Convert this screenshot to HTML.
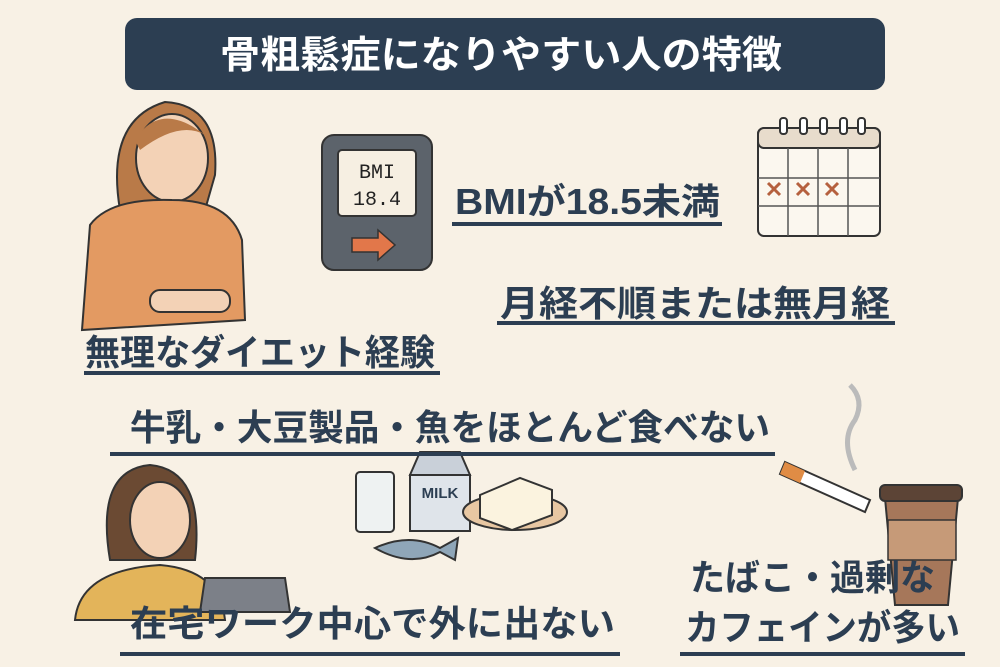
<!DOCTYPE html>
<html><head><meta charset="utf-8"><style>
html,body{margin:0;padding:0}
body{width:1000px;height:667px;background:#f8f1e5;position:relative;overflow:hidden;font-family:"Liberation Sans","Noto Sans CJK JP",sans-serif}
.title{position:absolute;left:125px;top:18px;width:760px;height:72px;background:#2c3e52;border-radius:12px}
.ul{position:absolute;height:4px;background:#2c3e52}
svg{position:absolute;left:0;top:0}
.t{font-family:"Liberation Sans","Noto Sans CJK JP",sans-serif;font-weight:bold;fill:#2c3e52;font-size:36px}
</style></head><body>
<div class="title"></div>
<svg width="1000" height="667" viewBox="0 0 1000 667">
 <path d="M120 210 Q105 120 165 102 Q220 105 215 175 L205 210 Z" fill="#b97a48" stroke="#333" stroke-width="2"/>
 <ellipse cx="172" cy="158" rx="36" ry="44" fill="#f3d2b6" stroke="#333" stroke-width="2"/>
 <path d="M135 140 Q160 100 205 135 Q180 120 140 150Z" fill="#b97a48"/>
 <path d="M82 330 L90 225 Q110 198 172 200 Q230 200 242 240 L245 320 Z" fill="#e39a62" stroke="#333" stroke-width="2"/>
 <rect x="150" y="290" width="80" height="22" rx="10" fill="#f3d2b6" stroke="#333" stroke-width="2"/>
 <rect x="322" y="135" width="110" height="135" rx="12" fill="#5c636b" stroke="#333" stroke-width="2"/>
 <rect x="338" y="150" width="78" height="66" rx="4" fill="#f6efe2" stroke="#333" stroke-width="2"/>
 <text x="377" y="178" font-family="Liberation Mono" font-size="20" text-anchor="middle" fill="#222">BMI</text>
 <text x="377" y="205" font-family="Liberation Mono" font-size="20" text-anchor="middle" fill="#222">18.4</text>
 <path d="M352 238 L378 238 L378 230 L395 245 L378 260 L378 252 L352 252Z" fill="#e2774a" stroke="#333" stroke-width="1.5"/>
 <rect x="758" y="128" width="122" height="108" rx="6" fill="#fbf7ef" stroke="#333" stroke-width="2"/>
 <rect x="758" y="128" width="122" height="20" rx="6" fill="#e8dccc" stroke="#333" stroke-width="2"/>
 <g stroke="#555" stroke-width="1.5">
  <line x1="758" y1="178" x2="880" y2="178"/><line x1="758" y1="206" x2="880" y2="206"/>
  <line x1="788" y1="148" x2="788" y2="236"/><line x1="818" y1="148" x2="818" y2="236"/><line x1="848" y1="148" x2="848" y2="236"/>
 </g>
 <g fill="#fff" stroke="#333" stroke-width="2"><rect x="780" y="118" width="7" height="16" rx="3"/><rect x="800" y="118" width="7" height="16" rx="3"/><rect x="820" y="118" width="7" height="16" rx="3"/><rect x="840" y="118" width="7" height="16" rx="3"/><rect x="858" y="118" width="7" height="16" rx="3"/></g>
 <g stroke="#b5603e" stroke-width="3"><path d="M768 183 l12 12 M780 183 l-12 12 M797 183 l12 12 M809 183 l-12 12 M826 183 l12 12 M838 183 l-12 12"/></g>
 <rect x="356" y="472" width="38" height="60" rx="4" fill="#eef2f2" stroke="#333" stroke-width="2"/>
 <rect x="410" y="475" width="60" height="56" fill="#dfe4ea" stroke="#333" stroke-width="2"/>
 <path d="M410 475 L420 452 L460 452 L470 475Z" fill="#c9d0d9" stroke="#333" stroke-width="2"/>
 <text x="440" y="498" font-size="15" font-weight="bold" text-anchor="middle" fill="#2c3e52" font-family="Liberation Sans">MILK</text>
 <ellipse cx="515" cy="512" rx="52" ry="18" fill="#e8c7a2" stroke="#333" stroke-width="2"/>
 <path d="M480 495 L520 478 L552 490 L552 515 L512 530 L480 518Z" fill="#fbf3df" stroke="#333" stroke-width="2"/>
 <path d="M375 548 Q410 532 440 548 L458 538 L455 560 L440 552 Q410 568 375 548Z" fill="#8fa6b8" stroke="#333" stroke-width="2"/>
 <path d="M785 462 L870 500 L865 512 L780 474Z" fill="#fff" stroke="#333" stroke-width="2"/>
 <path d="M785 462 L805 471 L800 483 L780 474Z" fill="#e08c45"/>
 <path d="M855 470 Q840 440 855 420 Q865 400 850 385" fill="none" stroke="#bbb" stroke-width="5"/>
 <path d="M885 498 L958 498 L948 605 L895 605Z" fill="#a6775a" stroke="#333" stroke-width="2"/>
 <rect x="880" y="485" width="82" height="16" rx="5" fill="#5c4436" stroke="#333" stroke-width="2"/>
 <rect x="888" y="520" width="68" height="40" fill="#c69a78" stroke="#333" stroke-width="1.5"/>
 <path d="M110 560 Q95 470 150 465 Q205 470 195 560Z" fill="#6b4a33" stroke="#333" stroke-width="2"/>
 <ellipse cx="160" cy="520" rx="30" ry="38" fill="#f3d2b6" stroke="#333" stroke-width="2"/>
 <path d="M75 620 Q80 570 160 565 Q220 570 225 620Z" fill="#e3b45a" stroke="#333" stroke-width="2"/>
 <path d="M205 578 L285 578 L290 612 L200 612Z" fill="#7c8088" stroke="#333" stroke-width="2"/>

 <text class="t" x="220" y="68" style="fill:#fff;font-size:38px" textLength="562" lengthAdjust="spacingAndGlyphs">骨粗鬆症になりやすい人の特徴</text>
 <text class="t" x="85" y="365" textLength="350" lengthAdjust="spacingAndGlyphs">無理なダイエット経験</text>
 <text class="t" x="455" y="214" textLength="265" lengthAdjust="spacingAndGlyphs">BMIが18.5未満</text>
 <text class="t" x="500" y="316" textLength="390" lengthAdjust="spacingAndGlyphs">月経不順または無月経</text>
 <text class="t" x="130" y="440" textLength="640" lengthAdjust="spacingAndGlyphs">牛乳・大豆製品・魚をほとんど食べない</text>
 <text class="t" x="130" y="636" textLength="485" lengthAdjust="spacingAndGlyphs">在宅ワーク中心で外に出ない</text>
 <text class="t" x="690" y="590" textLength="245" lengthAdjust="spacingAndGlyphs">たばこ・過剰な</text>
 <text class="t" x="685" y="640" textLength="275" lengthAdjust="spacingAndGlyphs">カフェインが多い</text>
</svg>
<div class="ul" style="left:84px;top:371px;width:356px"></div>
<div class="ul" style="left:452px;top:222px;width:270px"></div>
<div class="ul" style="left:497px;top:321px;width:398px"></div>
<div class="ul" style="left:110px;top:452px;width:665px"></div>
<div class="ul" style="left:120px;top:652px;width:500px"></div>
<div class="ul" style="left:680px;top:652px;width:285px"></div>
</body></html>
